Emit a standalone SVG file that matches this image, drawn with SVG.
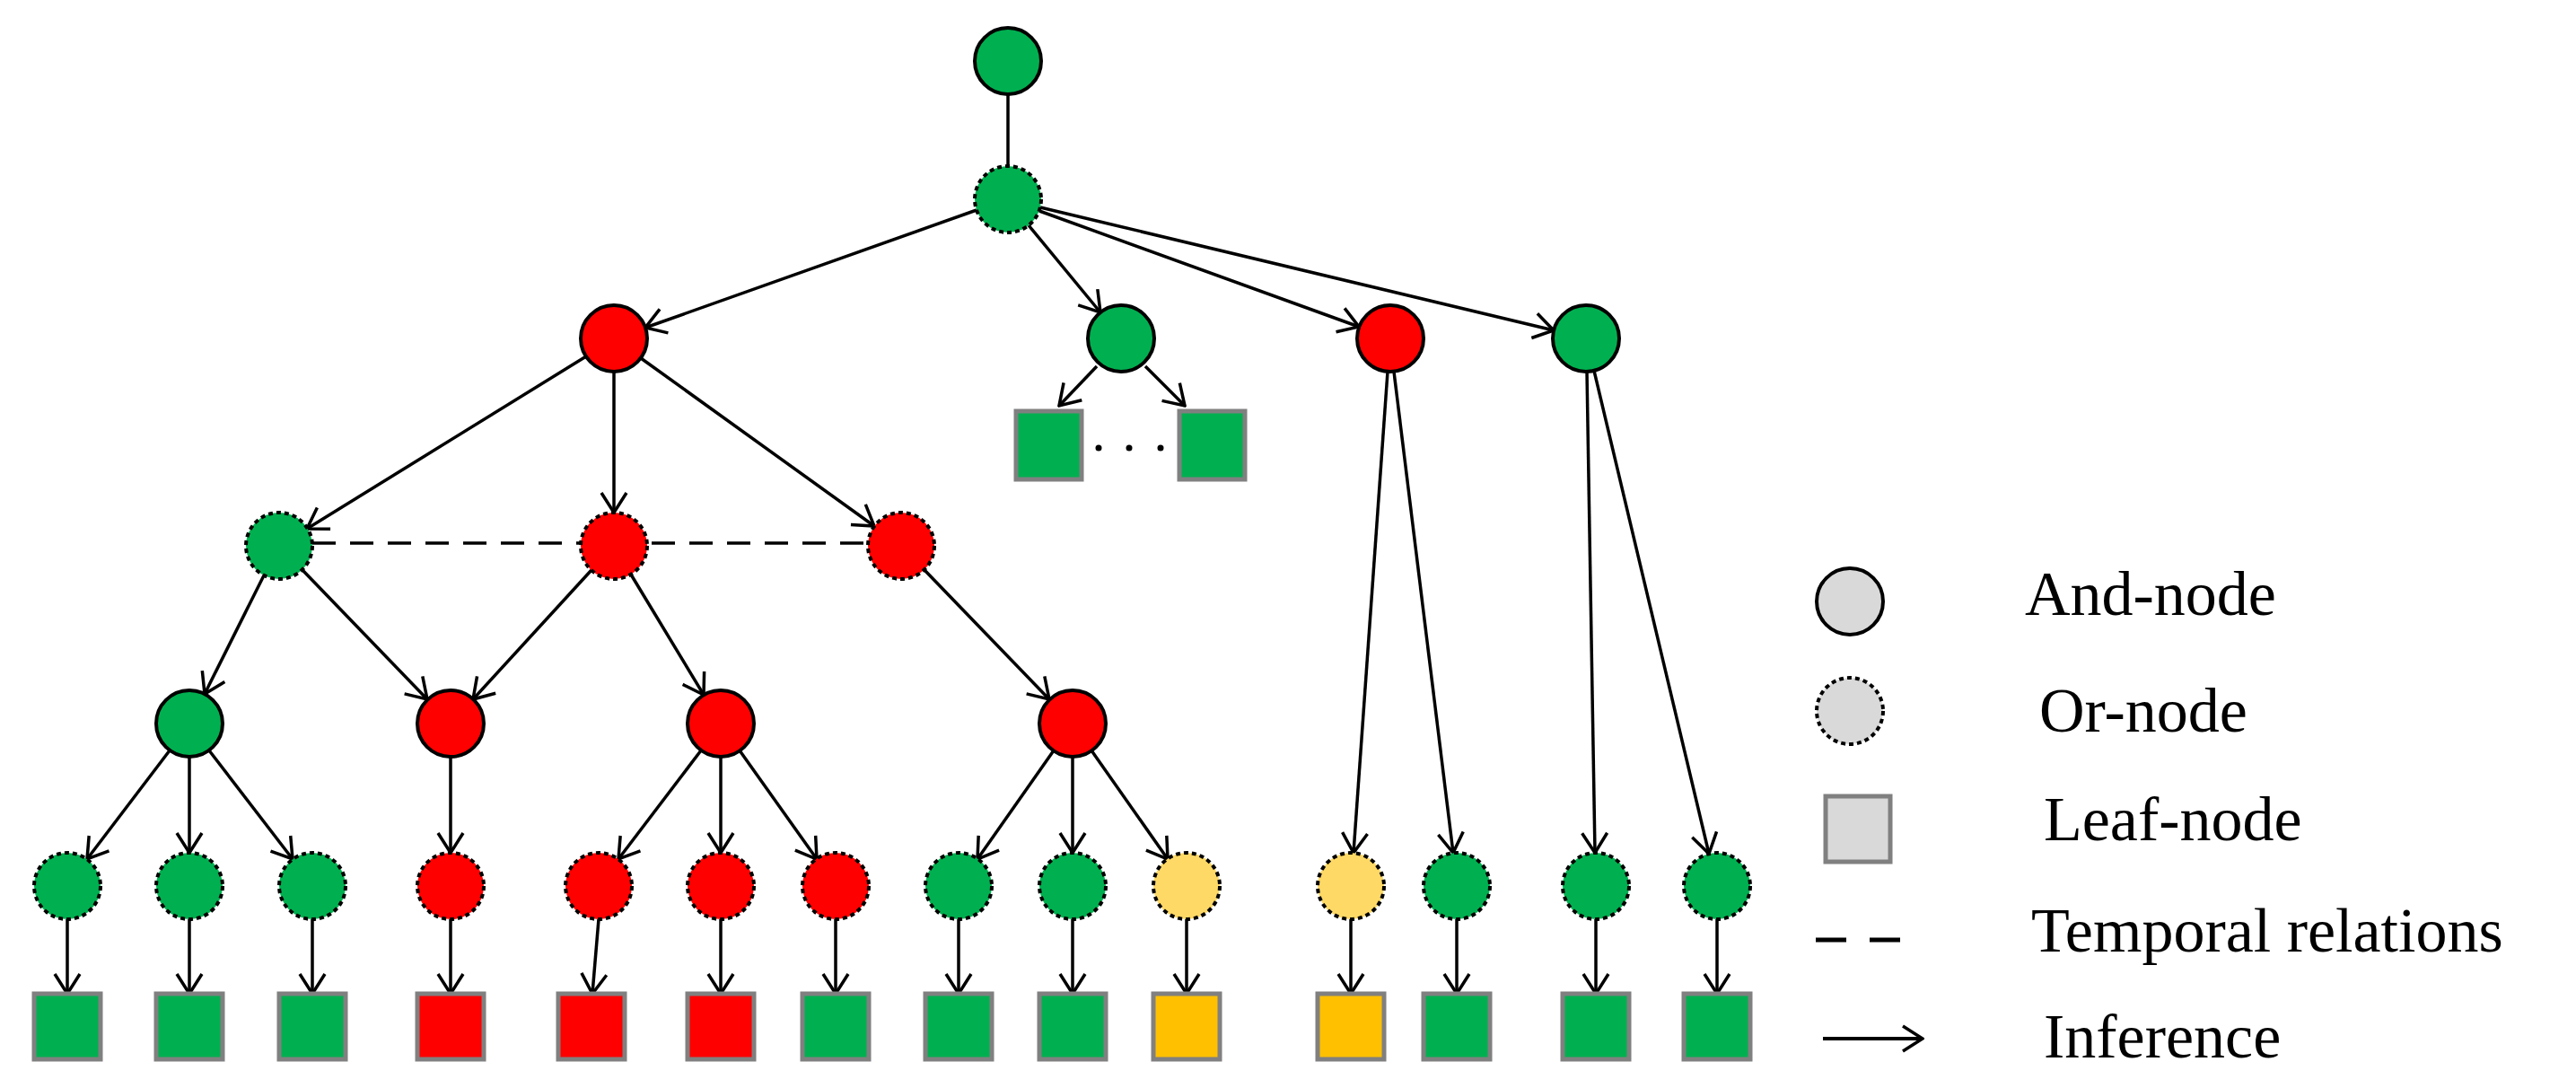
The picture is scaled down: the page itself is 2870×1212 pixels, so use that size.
<svg xmlns="http://www.w3.org/2000/svg" width="2870" height="1212" viewBox="0 0 2870 1212">
<style>
.and{stroke:#000;stroke-width:4}
.or{stroke:#000;stroke-width:4;stroke-dasharray:5 4}
.leaf{stroke:#808080;stroke-width:5}
.g{fill:#00B050}.r{fill:#FF0000}.y{fill:#FFD966}.ys{fill:#FFC000}.gr{fill:#D9D9D9}
.e line{stroke:#000;stroke-width:3.5;fill:none}
.e line.a{marker-end:url(#ar)}
text{font-family:"Liberation Serif","Times New Roman",serif;font-size:70px;fill:#000}
</style>
<defs>
<marker id="ar" viewBox="-2 -2 26 32" markerWidth="26" markerHeight="32" refX="22" refY="14" orient="auto" markerUnits="userSpaceOnUse">
<path d="M0,0 L22,14 L0,28" fill="none" stroke="#000" stroke-width="3.5"/>
</marker>
</defs>
<g id="connectors" class="e">
<line x1="1123" y1="105" x2="1123" y2="185"/>
<line class="a" x1="1088" y1="234" x2="719" y2="365"/>
<line class="a" x1="1146" y1="251" x2="1226" y2="348"/>
<line class="a" x1="1158" y1="235" x2="1514" y2="364"/>
<line class="a" x1="1159" y1="231" x2="1731" y2="368"/>
<line class="a" x1="653" y1="397" x2="342" y2="589"/>
<line class="a" x1="684" y1="414" x2="684" y2="571"/>
<line class="a" x1="714" y1="399" x2="974" y2="586"/>
<line class="a" x1="1222" y1="408" x2="1180" y2="452"/>
<line class="a" x1="1276" y1="408" x2="1320" y2="452"/>
<line class="a" x1="1546" y1="414" x2="1508" y2="950"/>
<line class="a" x1="1553" y1="414" x2="1619" y2="950"/>
<line class="a" x1="1768" y1="414" x2="1777" y2="950"/>
<line class="a" x1="1776" y1="413" x2="1904" y2="951"/>
<line class="a" x1="294" y1="641" x2="228" y2="773"/>
<line class="a" x1="337" y1="635" x2="476" y2="779"/>
<line class="a" x1="659" y1="635" x2="527" y2="779"/>
<line class="a" x1="703" y1="640" x2="784" y2="774"/>
<line class="a" x1="1030" y1="635" x2="1169" y2="779"/>
<line class="a" x1="189" y1="836" x2="97" y2="957"/>
<line class="a" x1="211" y1="843" x2="211" y2="950"/>
<line class="a" x1="233" y1="836" x2="326" y2="957"/>
<line class="a" x1="502" y1="843" x2="502" y2="950"/>
<line class="a" x1="781" y1="836" x2="689" y2="957"/>
<line class="a" x1="803" y1="843" x2="803" y2="950"/>
<line class="a" x1="824" y1="836" x2="910" y2="957"/>
<line class="a" x1="1174" y1="836" x2="1089" y2="957"/>
<line class="a" x1="1195" y1="843" x2="1195" y2="950"/>
<line class="a" x1="1216" y1="836" x2="1301" y2="957"/>
<line class="a" x1="75" y1="1024" x2="75" y2="1107"/>
<line class="a" x1="211" y1="1024" x2="211" y2="1107"/>
<line class="a" x1="348" y1="1024" x2="348" y2="1107"/>
<line class="a" x1="502" y1="1024" x2="502" y2="1107"/>
<line class="a" x1="667" y1="1024" x2="660" y2="1107"/>
<line class="a" x1="803" y1="1024" x2="803" y2="1107"/>
<line class="a" x1="931" y1="1024" x2="931" y2="1107"/>
<line class="a" x1="1068" y1="1024" x2="1068" y2="1107"/>
<line class="a" x1="1195" y1="1024" x2="1195" y2="1107"/>
<line class="a" x1="1322" y1="1024" x2="1322" y2="1107"/>
<line class="a" x1="1505" y1="1024" x2="1505" y2="1107"/>
<line class="a" x1="1623" y1="1024" x2="1623" y2="1107"/>
<line class="a" x1="1778" y1="1024" x2="1778" y2="1107"/>
<line class="a" x1="1913" y1="1024" x2="1913" y2="1107"/>
<line x1="348" y1="605" x2="970" y2="605" stroke-dasharray="26 16"/>
</g>
<g id="root"><circle class="and g" cx="1123" cy="68" r="37"/></g>
<g id="or1"><circle class="or g" cx="1123" cy="222" r="37"/></g>
<g id="andA"><circle class="and r" cx="684" cy="377" r="37"/></g>
<g id="andB"><circle class="and g" cx="1249" cy="377" r="37"/></g>
<g id="andR2"><circle class="and r" cx="1549" cy="377" r="37"/></g>
<g id="andC"><circle class="and g" cx="1767" cy="377" r="37"/></g>
<g id="leafB"><rect class="leaf g" x="1132" y="458" width="73" height="76"/><rect class="leaf g" x="1314" y="458" width="73" height="76"/>
<circle cx="1224" cy="499" r="3.5"/><circle cx="1258" cy="499" r="3.5"/><circle cx="1293" cy="499" r="3.5"/></g>
<g id="or3">
<circle class="or g" cx="311" cy="608" r="37"/>
<circle class="or r" cx="684" cy="608" r="37"/>
<circle class="or r" cx="1004" cy="608" r="37"/>
</g>
<g id="and4">
<circle class="and g" cx="211" cy="806" r="37"/>
<circle class="and r" cx="502" cy="806" r="37"/>
<circle class="and r" cx="803" cy="806" r="37"/>
<circle class="and r" cx="1195" cy="806" r="37"/>
</g>
<g id="or5">
<circle class="or g" cx="75" cy="987" r="37"/>
<circle class="or g" cx="211" cy="987" r="37"/>
<circle class="or g" cx="348" cy="987" r="37"/>
<circle class="or r" cx="502" cy="987" r="37"/>
<circle class="or r" cx="667" cy="987" r="37"/>
<circle class="or r" cx="803" cy="987" r="37"/>
<circle class="or r" cx="931" cy="987" r="37"/>
<circle class="or g" cx="1068" cy="987" r="37"/>
<circle class="or g" cx="1195" cy="987" r="37"/>
<circle class="or y" cx="1322" cy="987" r="37"/>
<circle class="or y" cx="1505" cy="987" r="37"/>
<circle class="or g" cx="1623" cy="987" r="37"/>
<circle class="or g" cx="1778" cy="987" r="37"/>
<circle class="or g" cx="1913" cy="987" r="37"/>
</g>
<g id="leaves">
<rect class="leaf g" x="38" y="1107" width="74" height="73"/>
<rect class="leaf g" x="174" y="1107" width="74" height="73"/>
<rect class="leaf g" x="311" y="1107" width="74" height="73"/>
<rect class="leaf r" x="465" y="1107" width="74" height="73"/>
<rect class="leaf r" x="622" y="1107" width="74" height="73"/>
<rect class="leaf r" x="766" y="1107" width="74" height="73"/>
<rect class="leaf g" x="894" y="1107" width="74" height="73"/>
<rect class="leaf g" x="1031" y="1107" width="74" height="73"/>
<rect class="leaf g" x="1158" y="1107" width="74" height="73"/>
<rect class="leaf ys" x="1285" y="1107" width="74" height="73"/>
<rect class="leaf ys" x="1468" y="1107" width="74" height="73"/>
<rect class="leaf g" x="1586" y="1107" width="74" height="73"/>
<rect class="leaf g" x="1741" y="1107" width="74" height="73"/>
<rect class="leaf g" x="1876" y="1107" width="74" height="73"/>
</g>
<g id="legend">
<circle class="and gr" cx="2061" cy="670" r="37"/>
<circle class="or gr" cx="2061" cy="792" r="37"/>
<rect class="leaf gr" x="2034" y="887" width="72" height="73"/>
<line x1="2023" y1="1047" x2="2117" y2="1047" stroke="#000" stroke-width="5" stroke-dasharray="34 26"/>
<line x1="2031" y1="1157" x2="2142" y2="1157" stroke="#000" stroke-width="4" marker-end="url(#ar)"/>
<text x="2256" y="685">And-node</text>
<text x="2272" y="815">Or-node</text>
<text x="2277" y="936">Leaf-node</text>
<text x="2263" y="1060">Temporal relations</text>
<text x="2277" y="1178">Inference</text>
</g>
</svg>
